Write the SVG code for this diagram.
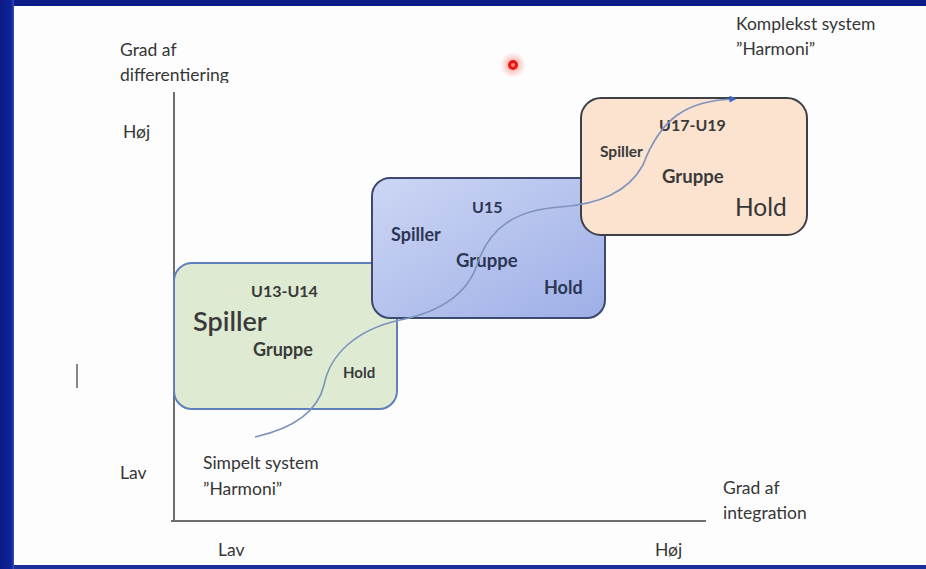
<svg xmlns="http://www.w3.org/2000/svg" width="926" height="569" viewBox="0 0 926 569">
  <defs>
    <linearGradient id="frameL" x1="0" y1="0" x2="1" y2="0">
      <stop offset="0" stop-color="#0a1a86"/>
      <stop offset="0.8" stop-color="#0e229a"/>
      <stop offset="1" stop-color="#3550b8"/>
    </linearGradient>
    <linearGradient id="blueFill" x1="0" y1="0" x2="1" y2="1">
      <stop offset="0" stop-color="#cdd6f4"/>
      <stop offset="1" stop-color="#9eafe7"/>
    </linearGradient>
    <radialGradient id="glow">
      <stop offset="0" stop-color="#ff3020" stop-opacity="0.55"/>
      <stop offset="1" stop-color="#ff6050" stop-opacity="0"/>
    </radialGradient>
    <marker id="arrow" viewBox="0 0 10 10" refX="8" refY="5" markerWidth="7" markerHeight="7" markerUnits="userSpaceOnUse" orient="auto">
      <path d="M0,0 L10,5 L0,10 z" fill="#3f66c0"/>
    </marker>
    <clipPath id="clipTop">
      <rect x="100" y="0" width="200" height="83"/>
    </clipPath>
    <style>
      text { font-family: Lato, "Open Sans", "Liberation Sans", sans-serif; fill: #363636; }
      .ax { font-size: 17.5px; }
      .lbl { font-weight: 700; fill: #3a3a3a; }
      .bl { font-weight: 700; fill: #2c3654; }
      .box { stroke-width: 2; }
    </style>
  </defs>

  <!-- background and frame -->
  <rect x="0" y="0" width="926" height="569" fill="#fdfdfd"/>
  <rect x="0" y="0" width="926" height="6" fill="#0c1c88"/>
  <rect x="0" y="565" width="926" height="4" fill="#1a2f9c"/>
  <rect x="0" y="0" width="14" height="569" fill="url(#frameL)"/>

  <!-- axes -->
  <g id="axes" stroke="#6e6e6e" stroke-width="2" fill="none">
    <line x1="174" y1="92" x2="174" y2="522"/>
    <line x1="171" y1="521" x2="706" y2="521"/>
  </g>
  <line x1="77" y1="364" x2="77" y2="388" stroke="#888" stroke-width="2"/>

  <!-- axis labels -->
  <g id="axis-labels">
    <g clip-path="url(#clipTop)">
      <text class="ax" x="120" y="56">Grad af</text>
      <text class="ax" x="120" y="81">differentiering</text>
    </g>
    <text class="ax" x="123" y="138">Høj</text>
    <text class="ax" x="120" y="479">Lav</text>
    <text class="ax" x="218" y="556">Lav</text>
    <text class="ax" x="655" y="556">Høj</text>
    <text class="ax" x="723" y="494">Grad af</text>
    <text class="ax" x="723" y="519">integration</text>
  </g>

  <g id="simpelt">
    <text class="ax" x="203" y="469">Simpelt system</text>
    <text class="ax" x="203" y="495">”Harmoni”</text>
  </g>
  <g id="komplekst">
    <text class="ax" x="736" y="30">Komplekst system</text>
    <text class="ax" x="736" y="55">”Harmoni”</text>
  </g>

  <!-- green box -->
  <g id="box-u13">
    <rect class="box" x="174" y="263" width="223" height="146" rx="18" fill="#dfead3" stroke="#5f80bd"/>
    <text class="lbl" x="251" y="297" font-size="16">U13-U14</text>
    <text class="lbl" x="193" y="331" font-size="27" style="font-weight:600">Spiller</text>
    <text class="lbl" x="253" y="356" font-size="18">Gruppe</text>
    <text class="lbl" x="343" y="378" font-size="15">Hold</text>
  </g>

  <!-- blue box -->
  <g id="box-u15">
    <rect class="box" x="372" y="178" width="233" height="140" rx="18" fill="url(#blueFill)" stroke="#3b4a6e"/>
    <text class="bl" x="472" y="213" font-size="16">U15</text>
    <text class="bl" x="391" y="241" font-size="18">Spiller</text>
    <text class="bl" x="456" y="267" font-size="18.5">Gruppe</text>
    <text class="bl" x="544" y="294" font-size="18">Hold</text>
  </g>

  <!-- peach box -->
  <g id="box-u17">
    <rect class="box" x="581" y="98" width="226" height="137" rx="20" fill="#fbe3d0" stroke="#3f3f48"/>
    <text class="lbl" x="659" y="131" font-size="16">U17-U19</text>
    <text class="lbl" x="600" y="157" font-size="15.5">Spiller</text>
    <text class="lbl" x="662" y="183" font-size="18.5">Gruppe</text>
    <text x="735" y="216" font-size="24.5" fill="#222">Hold</text>
  </g>

  <!-- connector curve -->
  <g id="connectors">
    <path d="M 255 437 C 295 428, 318 410, 324 385 C 330 355, 355 330, 400 320 C 440 312, 468 295, 478 262 C 490 228, 515 210, 560 207 C 600 204, 628 192, 643 165 C 660 120, 685 100, 735 99" fill="none" stroke="#7d93bd" stroke-width="1.6" marker-end="url(#arrow)"/>
  </g>

  <!-- red pointer dot -->
  <g id="pointer">
    <circle cx="513" cy="65" r="13" fill="url(#glow)"/>
    <circle cx="513" cy="65" r="5" fill="#e8161a"/>
    <circle cx="513" cy="65" r="2" fill="#ff8a70"/>
  </g>
</svg>
